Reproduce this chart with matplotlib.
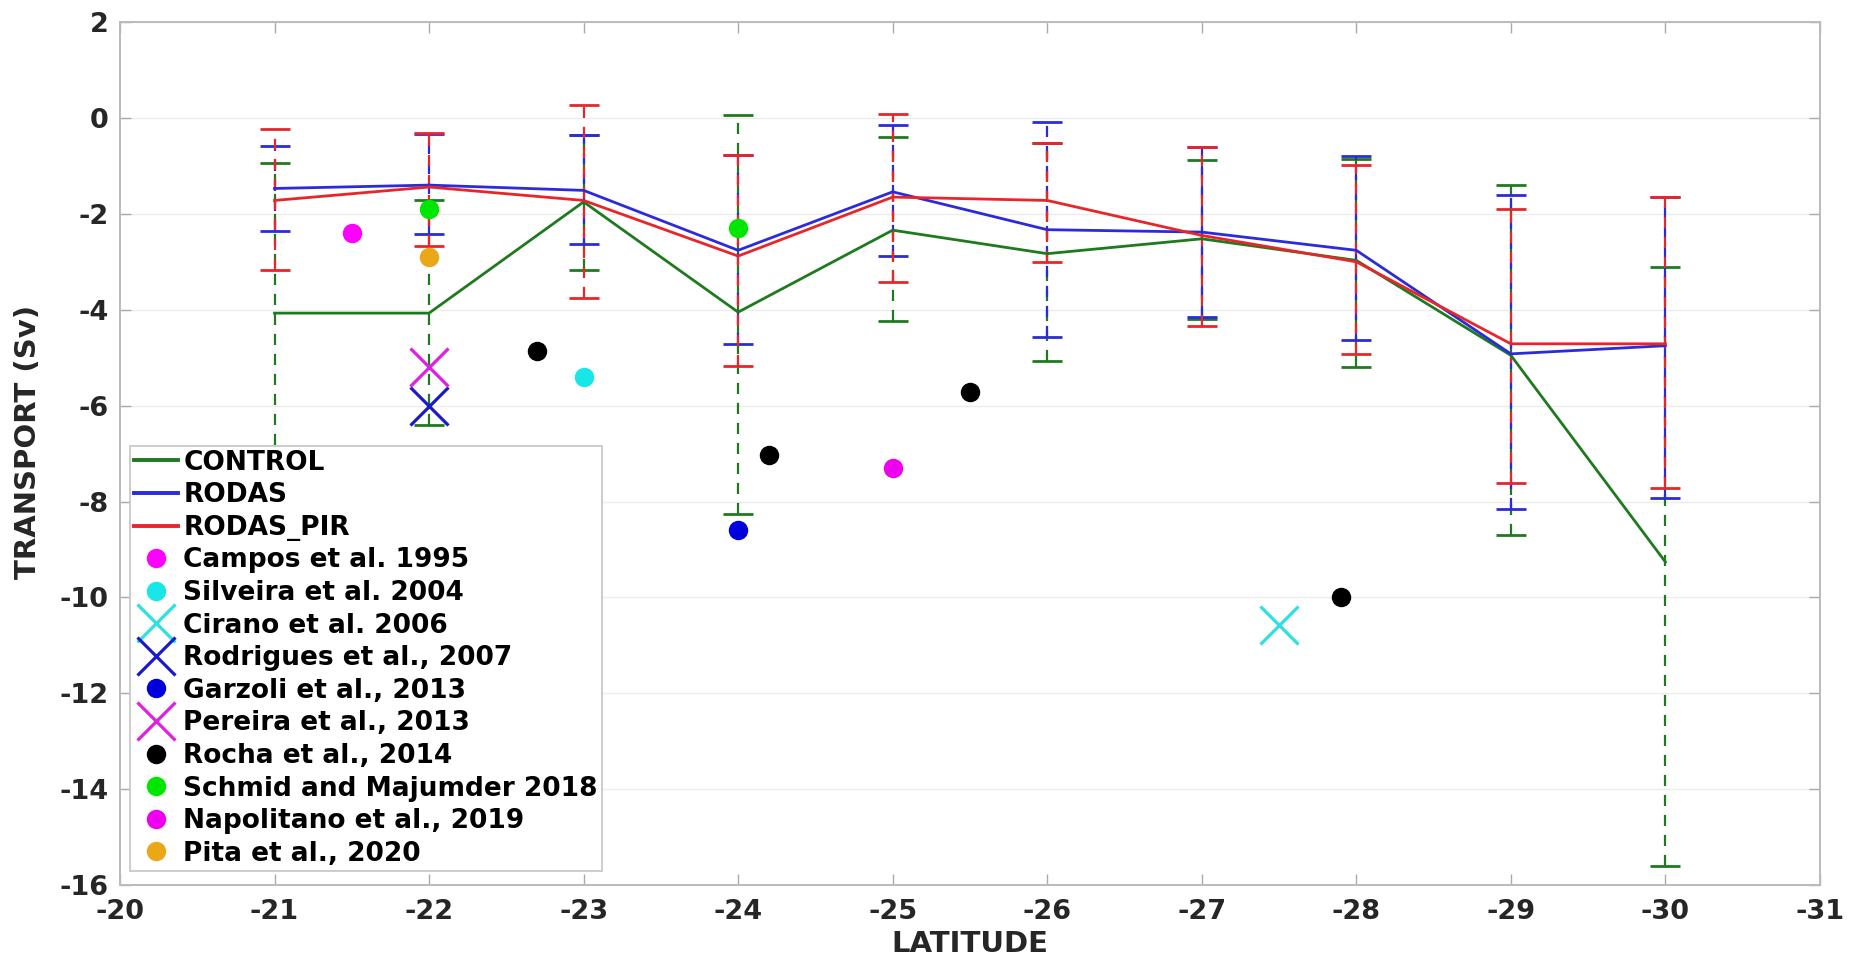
import matplotlib
matplotlib.use("Agg")
import matplotlib.pyplot as plt
from matplotlib.lines import Line2D

plt.rcParams['font.family'] = ['DejaVu Sans']
plt.rcParams['font.weight'] = 'bold'
plt.rcParams['axes.unicode_minus'] = False

# ---------------- data ----------------
lat = [-21, -22, -23, -24, -25, -26, -27, -28, -29, -30]

control_mean = [-4.07, -4.07, -1.75, -4.05, -2.34, -2.83, -2.52, -2.97, -4.95, -9.26]
control_upper = [-0.93, -1.72, -0.35, 0.06, -0.39, -0.53, -0.87, -0.85, -1.40, -3.11]
control_lower = [-11.0, -6.41, -3.18, -8.26, -4.24, -5.06, -4.20, -5.20, -8.70, -15.60]

rodas_mean = [-1.47, -1.40, -1.51, -2.76, -1.54, -2.33, -2.38, -2.76, -4.92, -4.75]
rodas_upper = [-0.58, -0.33, -0.35, -0.78, -0.14, -0.08, -0.60, -0.80, -1.61, -1.65]
rodas_lower = [-2.36, -2.41, -2.62, -4.72, -2.88, -4.57, -4.15, -4.64, -8.16, -7.93]

pir_mean = [-1.72, -1.44, -1.72, -2.88, -1.65, -1.72, -2.45, -3.00, -4.71, -4.71]
pir_upper = [-0.24, -0.31, 0.28, -0.78, 0.09, -0.52, -0.60, -0.98, -1.89, -1.65]
pir_lower = [-3.17, -2.66, -3.75, -5.18, -3.42, -3.00, -4.33, -4.92, -7.62, -7.71]

series_names = ["CONTROL", "RODAS", "RODAS_PIR"]

campos_lat, campos_val = [-21.5], [-2.4]
silveira_lat, silveira_val = [-23.0], [-5.4]
cirano_lat, cirano_val = [-27.5], [-10.57]
rodrigues_lat, rodrigues_val = [-22.0], [-6.0]
garzoli_lat, garzoli_val = [-24.0], [-8.59]
pereira_lat, pereira_val = [-22.0], [-5.2]
rocha_lat, rocha_val = [-22.7, -24.2, -25.5, -27.9], [-4.85, -7.02, -5.72, -10.0]
schmid_lat, schmid_val = [-22.0, -24.0], [-1.89, -2.29]
napolitano_lat, napolitano_val = [-25.0], [-7.3]
pita_lat, pita_val = [-22.0], [-2.9]

xticks = list(range(-20, -32, -1))
yticks = list(range(2, -17, -2))

# ---------------- style ----------------
c_green = '#1f7a1f'
c_blue = '#2b2bdc'
c_red = '#e8262a'

fig = plt.figure(figsize=(18.66, 9.61), dpi=100)
ax = fig.add_axes([0.0643, 0.079, 0.911, 0.898])

dash = (0, (5, 4))
for mean, up, lo, col, z in [
        (control_mean, control_upper, control_lower, c_green, 2),
        (rodas_mean, rodas_upper, rodas_lower, c_blue, 3),
        (pir_mean, pir_upper, pir_lower, c_red, 4)]:
    yerr = [[m - l for m, l in zip(mean, lo)], [u - m for m, u in zip(mean, up)]]
    cont = ax.errorbar(lat, mean, yerr=yerr, fmt='none', ecolor=col,
                       elinewidth=1.6, capsize=11, capthick=2.0, zorder=z)
    for bc in cont[2]:
        bc.set_linestyle(dash)
for mean, col, z in [(control_mean, c_green, 5), (rodas_mean, c_blue, 6),
                     (pir_mean, c_red, 7)]:
    ax.plot(lat, mean, color=col, lw=2.0, zorder=z)

ms_dot = 14
ms_x = 27
mew_x = 2.3
obs = []
obs.append(ax.plot(campos_lat, campos_val, 'o', color='#ff00ff', ms=ms_dot, mec='none', zorder=10, label='Campos et al. 1995')[0])
obs.append(ax.plot(silveira_lat, silveira_val, 'o', color='#19e6e6', ms=ms_dot, mec='none', zorder=10, label='Silveira et al. 2004')[0])
obs.append(ax.plot(cirano_lat, cirano_val, 'x', color='#2ee0e0', ms=ms_x, mew=mew_x, zorder=10, label='Cirano et al. 2006')[0])
obs.append(ax.plot(rodrigues_lat, rodrigues_val, 'x', color='#1a1acc', ms=ms_x, mew=mew_x, zorder=10, label='Rodrigues et al., 2007')[0])
obs.append(ax.plot(garzoli_lat, garzoli_val, 'o', color='#0000dd', ms=ms_dot, mec='none', zorder=10, label='Garzoli et al., 2013')[0])
obs.append(ax.plot(pereira_lat, pereira_val, 'x', color='#e020e0', ms=ms_x, mew=mew_x, zorder=10, label='Pereira et al., 2013')[0])
obs.append(ax.plot(rocha_lat, rocha_val, 'o', color='black', ms=ms_dot, mec='none', zorder=10, label='Rocha et al., 2014')[0])
obs.append(ax.plot(schmid_lat, schmid_val, 'o', color='#00e600', ms=ms_dot, mec='none', zorder=10, label='Schmid and Majumder 2018')[0])
obs.append(ax.plot(napolitano_lat, napolitano_val, 'o', color='#ee00ee', ms=ms_dot, mec='none', zorder=10, label='Napolitano et al., 2019')[0])
obs.append(ax.plot(pita_lat, pita_val, 'o', color='#eaa818', ms=ms_dot, mec='none', zorder=10, label='Pita et al., 2020')[0])

ax.set_xlim(-20, -31)
ax.set_ylim(-16, 2)
ax.set_xticks(xticks)
ax.set_yticks(yticks)
ax.tick_params(axis='both', which='both', direction='in', length=8, width=1,
               color='#aaaaaa', labelsize=19.5, labelcolor='#262626',
               top=True, right=True)
ax.tick_params(axis='x', pad=10)
ax.tick_params(axis='y', pad=8)
for lab in ax.get_xticklabels() + ax.get_yticklabels():
    lab.set_fontweight('bold')
ax.yaxis.grid(True, color='#ececec', lw=1)
ax.set_axisbelow(True)
for sp in ax.spines.values():
    sp.set_color('#bbbbbb')
    sp.set_linewidth(1.4)

ax.set_xlabel('LATITUDE', fontsize=21, fontweight='bold', color='#262626')
ax.set_ylabel('TRANSPORT (Sv)', fontsize=21, fontweight='bold', color='#262626')
ax.xaxis.set_label_coords(0.5, -0.052)
ax.yaxis.set_label_coords(-0.046, 0.513)

handles = [Line2D([], [], color=c, lw=2.8) for c in (c_green, c_blue, c_red)] + obs
labels = series_names + [h.get_label() for h in obs]
leg = ax.legend(handles, labels, loc='lower left', bbox_to_anchor=(0.0059, 0.0167),
                borderaxespad=0, prop={'weight': 'bold', 'size': 19},
                labelspacing=0.25, handlelength=1.67, handletextpad=0.2,
                borderpad=0.15, fancybox=False, framealpha=1, edgecolor='#c4c4c4',
                numpoints=1)
leg.set_zorder(20)
leg.get_frame().set_linewidth(1.2)

fig.savefig('out.png', dpi=100)
